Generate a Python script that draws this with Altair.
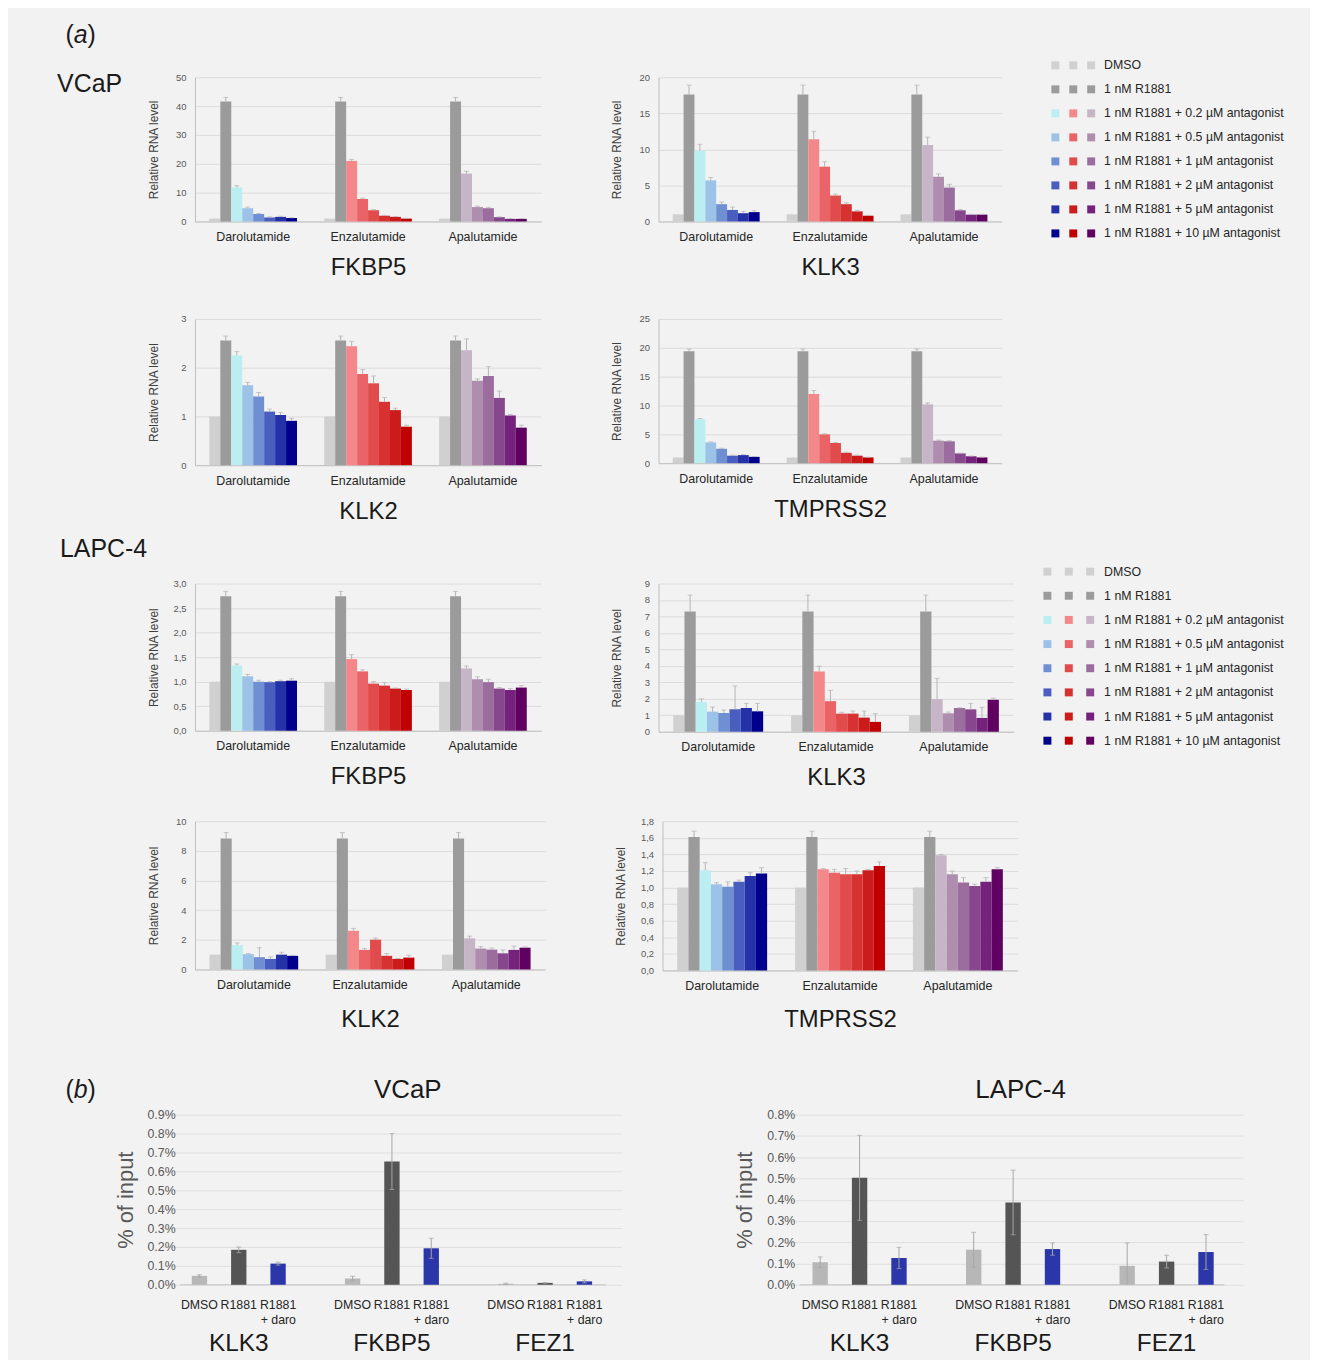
import altair as alt
import pandas as pd

FONT = "Liberation Sans"
BG = "#f2f2f2"
ERR = "#b3b3b3"

# ---------------- categories ----------------
GROUPS = ["Darolutamide", "Enzalutamide", "Apalutamide"]
CONDS = ["DMSO", "R1881", "0.2", "0.5", "1", "2", "5", "10"]
LEGEND_LABELS = [
    "DMSO",
    "1 nM R1881",
    "1 nM R1881 + 0.2 µM antagonist",
    "1 nM R1881 + 0.5 µM antagonist",
    "1 nM R1881 + 1 µM antagonist",
    "1 nM R1881 + 2 µM antagonist",
    "1 nM R1881 + 5 µM antagonist",
    "1 nM R1881 + 10 µM antagonist",
]

# ---------------- (a) VCaP ----------------
VCAP_FKBP5 = [[1.0, 41.6, 11.8, 4.6, 2.6, 1.4, 1.6, 1.2],
              [1.0, 41.6, 21.0, 7.8, 3.9, 2.0, 1.6, 1.0],
              [1.0, 41.6, 16.6, 5.0, 4.6, 1.5, 0.9, 0.9]]
VCAP_FKBP5_ERR = [[0, 1.4, 0.6, 0.4, 0.2, 0.2, 0.2, 0.1],
                  [0, 1.4, 0.5, 0.3, 0.2, 0.1, 0.1, 0.1],
                  [0, 1.4, 0.8, 0.3, 0.3, 0.1, 0.1, 0.1]]
VCAP_KLK3 = [[1.0, 17.6, 9.8, 5.7, 2.4, 1.6, 1.15, 1.3],
             [1.0, 17.6, 11.4, 7.6, 3.6, 2.4, 1.4, 0.8],
             [1.0, 17.6, 10.6, 6.2, 4.7, 1.55, 0.95, 0.95]]
VCAP_KLK3_ERR = [[0, 1.3, 0.9, 0.4, 0.3, 0.4, 0.25, 0.2],
                 [0, 1.3, 1.1, 0.7, 0.2, 0.2, 0.15, 0.05],
                 [0, 1.3, 1.1, 0.4, 0.45, 0.1, 0.05, 0.05]]
VCAP_KLK2 = [[1.0, 2.56, 2.25, 1.64, 1.41, 1.10, 1.03, 0.91],
             [1.0, 2.56, 2.44, 1.87, 1.68, 1.30, 1.13, 0.79],
             [1.0, 2.56, 2.36, 1.73, 1.83, 1.38, 1.02, 0.77]]
VCAP_KLK2_ERR = [[0, 0.09, 0.08, 0.06, 0.08, 0.05, 0.05, 0.05],
                 [0, 0.09, 0.10, 0.09, 0.15, 0.09, 0.04, 0.03],
                 [0, 0.09, 0.23, 0.04, 0.19, 0.14, 0.02, 0.05]]
VCAP_TMPRSS2 = [[1.0, 19.4, 7.6, 3.6, 2.5, 1.3, 1.4, 1.1],
                [1.0, 19.4, 12.0, 5.0, 3.5, 1.8, 1.3, 1.0],
                [1.0, 19.4, 10.2, 3.9, 3.8, 1.7, 1.2, 1.0]]
VCAP_TMPRSS2_ERR = [[0, 0.4, 0.15, 0.1, 0.1, 0.1, 0.1, 0.05],
                    [0, 0.4, 0.6, 0.1, 0.1, 0.1, 0.1, 0.05],
                    [0, 0.4, 0.25, 0.1, 0.1, 0.05, 0.05, 0.05]]

# ---------------- (a) LAPC-4 ----------------
LAPC_FKBP5 = [[1.0, 2.74, 1.33, 1.11, 1.00, 0.99, 1.01, 1.02],
              [1.0, 2.74, 1.46, 1.21, 0.96, 0.92, 0.86, 0.83],
              [1.0, 2.74, 1.27, 1.05, 0.99, 0.86, 0.83, 0.88]]
LAPC_FKBP5_ERR = [[0, 0.10, 0.03, 0.04, 0.03, 0.01, 0.02, 0.04],
                  [0, 0.10, 0.09, 0.03, 0.04, 0.06, 0.01, 0.02],
                  [0, 0.10, 0.05, 0.05, 0.06, 0.02, 0.03, 0.04]]
LAPC_KLK3 = [[1.0, 7.3, 1.82, 1.22, 1.14, 1.36, 1.44, 1.24],
             [1.0, 7.3, 3.66, 1.86, 1.10, 1.10, 0.86, 0.60],
             [1.0, 7.3, 1.98, 1.12, 1.44, 1.36, 0.84, 1.94]]
LAPC_KLK3_ERR = [[0, 1.0, 0.18, 0.28, 0.18, 1.42, 0.28, 0.48],
                 [0, 1.0, 0.32, 0.66, 0.08, 0.16, 0.40, 0.50],
                 [0, 1.0, 1.26, 0.08, 0.02, 0.36, 0.64, 0.10]]
LAPC_KLK2 = [[1.0, 8.84, 1.65, 1.03, 0.83, 0.71, 1.00, 0.92],
             [1.0, 8.84, 2.61, 1.32, 2.01, 0.92, 0.71, 0.80],
             [1.0, 8.84, 2.10, 1.41, 1.34, 1.09, 1.32, 1.47]]
LAPC_KLK2_ERR = [[0, 0.40, 0.14, 0.04, 0.64, 0.14, 0.16, 0.03],
                 [0, 0.40, 0.16, 0.09, 0.11, 0.15, 0.03, 0.16],
                 [0, 0.40, 0.15, 0.13, 0.11, 0.23, 0.26, 0.05]]
LAPC_TMPRSS2 = [[1.0, 1.61, 1.21, 1.04, 1.01, 1.07, 1.14, 1.17],
                [1.0, 1.61, 1.22, 1.18, 1.16, 1.16, 1.21, 1.26],
                [1.0, 1.61, 1.39, 1.16, 1.06, 1.02, 1.07, 1.22]]
LAPC_TMPRSS2_ERR = [[0, 0.07, 0.09, 0.02, 0.06, 0.02, 0.04, 0.07],
                    [0, 0.07, 0.01, 0.04, 0.07, 0.04, 0.01, 0.05],
                    [0, 0.07, 0.01, 0.04, 0.06, 0.02, 0.05, 0.02]]

# tick values
TICKS_VCAP_FKBP5 = [0, 10, 20, 30, 40, 50]
TICKS_VCAP_KLK3 = [0, 5, 10, 15, 20]
TICKS_VCAP_KLK2 = [0, 1, 2, 3]
TICKS_VCAP_TMPRSS2 = [0, 5, 10, 15, 20, 25]
TICKS_LAPC_FKBP5 = [0.0, 0.5, 1.0, 1.5, 2.0, 2.5, 3.0]
TICKS_LAPC_KLK3 = [0, 1, 2, 3, 4, 5, 6, 7, 8, 9]
TICKS_LAPC_KLK2 = [0, 2, 4, 6, 8, 10]
TICKS_LAPC_TMPRSS2 = [0.0, 0.2, 0.4, 0.6, 0.8, 1.0, 1.2, 1.4, 1.6, 1.8]

# ---------------- (b) ChIP ----------------
CHIP_GENES = ["KLK3", "FKBP5", "FEZ1"]
CHIP_CONDS = ["DMSO", "R1881", "R1881 + daro"]
CHIP_LINE1 = ["DMSO", "R1881", "R1881"]
VCAP_CHIP = [[0.047, 0.185, 0.112], [0.033, 0.652, 0.193], [0.005, 0.010, 0.018]]
VCAP_CHIP_ERR = [[0.006, 0.015, 0.008], [0.012, 0.148, 0.053], [0.003, 0.002, 0.008]]
LAPC_CHIP = [[0.106, 0.503, 0.126], [0.165, 0.387, 0.168], [0.089, 0.109, 0.154]]
LAPC_CHIP_ERR = [[0.025, 0.200, 0.050], [0.082, 0.152, 0.029], [0.108, 0.030, 0.082]]
TICKS_VCAP_CHIP = [0.0, 0.1, 0.2, 0.3, 0.4, 0.5, 0.6, 0.7, 0.8, 0.9]
TICKS_LAPC_CHIP = [0.0, 0.1, 0.2, 0.3, 0.4, 0.5, 0.6, 0.7, 0.8]

# ---------------- palette ----------------
DMSO_GRAY = "#d0d0d0"
R1881_GRAY = "#9b9b9b"
BLUES = ["#bbeef0", "#9cc2e7", "#6f8fd3", "#4a5ec0", "#2532a7", "#00008c"]
REDS = ["#f4878a", "#ea6467", "#e14b4c", "#d73232", "#cc1b1b", "#c00000"]
PURPLES = ["#c6b5c6", "#ae8dae", "#9b6c9e", "#87478d", "#74227b", "#600060"]
SERIES = [BLUES, REDS, PURPLES]
CHIP_COLORS = ["#b7b7b7", "#555555", "#2b36a8"]


def anchor(x, y):
    return alt.Chart(pd.DataFrame({"a": [0]})).mark_point(
        opacity=0, size=1, filled=True).encode(x=alt.value(x), y=alt.value(y))


def spacer():
    return anchor(0, 0).properties(width=1, height=1)


def note(text, x, y, size, style="normal", color="#1a1a1a"):
    return alt.Chart(pd.DataFrame({"t": [text]})).mark_text(
        font=FONT, fontSize=size, fontStyle=style, color=color,
        align="center", baseline="middle").encode(
        x=alt.value(x), y=alt.value(y), text="t:N")


def rna_panel(pid, gene, vals, errs, ymax, ticks, comma, width, height, extras, title_pad=13):
    ckey, okey = f"c{pid}", f"o{pid}"
    rows = []
    for gi, g in enumerate(GROUPS):
        for ci, c in enumerate(CONDS):
            rows.append({"group": g, okey: c, ckey: f"{g}|{c}",
                         "v": vals[gi][ci], "top": vals[gi][ci] + errs[gi][ci]})
    df = pd.DataFrame(rows)
    dom = [f"{g}|{c}" for g in GROUPS for c in CONDS]
    rng = [col for si in range(3) for col in [DMSO_GRAY, R1881_GRAY] + SERIES[si]]
    expr = ("replace(format(datum.value, '.1f'), '.', ',')" if comma
            else "format(datum.value, 'd')")
    x = alt.X("group:N", sort=GROUPS,
              scale=alt.Scale(domain=GROUPS, paddingInner=0.237, paddingOuter=0.125),
              axis=alt.Axis(title=gene, labelAngle=0, labelFont=FONT, labelFontSize=12.5,
                            labelColor="#262626", labelPadding=9, ticks=False, tickSize=0,
                            domainColor="#bfbfbf", titleFont=FONT, titleFontSize=24,
                            titleFontWeight="normal", titleColor="#1a1a1a",
                            titlePadding=title_pad))
    xo = alt.XOffset(f"{okey}:N", sort=CONDS,
                     scale=alt.Scale(domain=CONDS, paddingInner=0, paddingOuter=0))
    y = alt.Y("v:Q", scale=alt.Scale(domain=[0, ymax], nice=False),
              axis=alt.Axis(values=ticks, labelExpr=expr, title="Relative RNA level",
                            titleFont=FONT, titleFontSize=12, titleFontWeight="normal",
                            titleColor="#404040", labelFont=FONT, labelFontSize=9.5,
                            labelColor="#595959", labelPadding=9, ticks=False, tickSize=0,
                            labelOverlap=False, domain=True, domainColor="#bfbfbf",
                            grid=True, gridColor="#dcdcdc", minExtent=26, maxExtent=26,
                            titlePadding=9))
    base = alt.Chart(df)
    bars = base.mark_bar().encode(
        x=x, xOffset=xo, y=y,
        color=alt.Color(f"{ckey}:N", scale=alt.Scale(domain=dom, range=rng), legend=None))
    eb = base.transform_filter("datum.top > datum.v")
    whisk = eb.mark_rule(color=ERR, strokeWidth=1).encode(x=x, xOffset=xo, y=y, y2="top:Q")
    cap = eb.transform_calculate(v="datum.top").mark_tick(
        color=ERR, orient="horizontal", size=5, thickness=1).encode(x=x, xOffset=xo, y=y)
    return alt.layer(bars, whisk, cap, *extras).properties(width=width, height=height)


def legend_panel(pid, sq_range, txt_x, y_range, height, extras):
    lkey = f"l{pid}"
    rows = [{"row": r, "col": s, lkey: f"{s}|{r}"} for s in range(3) for r in range(8)]
    dom = [f"{s}|{r}" for s in range(3) for r in range(8)]
    rng = [([DMSO_GRAY, R1881_GRAY] + SERIES[s])[r] for s in range(3) for r in range(8)]
    yenc = alt.Y("row:Q", scale=alt.Scale(domain=[0, 7], range=y_range), axis=None)
    sq = alt.Chart(pd.DataFrame(rows)).mark_square(size=64, opacity=1).encode(
        x=alt.X("col:Q", scale=alt.Scale(domain=[0, 2], range=sq_range), axis=None),
        y=yenc,
        color=alt.Color(f"{lkey}:N", scale=alt.Scale(domain=dom, range=rng), legend=None))
    txt = alt.Chart(pd.DataFrame({"row": list(range(8)), "lab": LEGEND_LABELS})).mark_text(
        align="left", baseline="middle", font=FONT, fontSize=12.4, color="#262626").encode(
        x=alt.value(txt_x), y=yenc, text="lab:N")
    return alt.layer(sq, txt, *extras).properties(width=200, height=height)


def chip_panel(pid, vals, errs, ymax, ticks, width, height, xrange, extras):
    okey, ckey = f"bo{pid}", f"bc{pid}"
    rows = []
    for gi, g in enumerate(CHIP_GENES):
        for ci, c in enumerate(CHIP_CONDS):
            v, e = vals[gi][ci], errs[gi][ci]
            rows.append({"gene": g, okey: c, ckey: c, "v": v,
                         "lo": max(0.0, v - e), "hi": v + e,
                         "line1": CHIP_LINE1[ci]})
    df = pd.DataFrame(rows)
    x = alt.X("gene:N", sort=CHIP_GENES,
              scale=alt.Scale(domain=CHIP_GENES, range=xrange, paddingInner=0, paddingOuter=0),
              axis=None)
    xo = alt.XOffset(f"{okey}:N", sort=CHIP_CONDS,
                     scale=alt.Scale(domain=CHIP_CONDS, paddingInner=0.61, paddingOuter=0.753))
    y = alt.Y("v:Q", scale=alt.Scale(domain=[0, ymax], nice=False),
              axis=alt.Axis(values=ticks, labelExpr="format(datum.value, '.1f') + '%'",
                            title="% of input", titleFont=FONT, titleFontSize=22,
                            titleFontWeight="normal", titleColor="#595959",
                            labelFont=FONT, labelFontSize=12.4, labelColor="#595959",
                            labelPadding=5, ticks=False, tickSize=0, domain=False,
                            labelOverlap=False, grid=True, gridColor="#e0e0e0",
                            minExtent=33, maxExtent=33, titlePadding=10))
    base = alt.Chart(df)
    baseline = alt.Chart(pd.DataFrame({"v": [0.0]})).mark_rule(
        color="#c4c4c4", strokeWidth=1).encode(
        y=y, x=alt.value(0), x2=alt.value(width))
    bars = base.mark_bar().encode(
        x=x, xOffset=xo, y=y,
        color=alt.Color(f"{ckey}:N", scale=alt.Scale(domain=CHIP_CONDS, range=CHIP_COLORS),
                        legend=None))
    whisk = base.transform_calculate(v="datum.lo").mark_rule(
        color="#a6a6a6", strokeWidth=1).encode(x=x, xOffset=xo, y=y, y2="hi:Q")
    cap_hi = base.transform_calculate(v="datum.hi").mark_tick(
        color="#a6a6a6", orient="horizontal", size=5, thickness=1).encode(x=x, xOffset=xo, y=y)
    cap_lo = base.transform_filter("datum.lo > 0").transform_calculate(v="datum.lo").mark_tick(
        color="#a6a6a6", orient="horizontal", size=5, thickness=1).encode(x=x, xOffset=xo, y=y)
    lab1 = base.mark_text(font=FONT, fontSize=12.4, color="#262626", baseline="middle").encode(
        x=x, xOffset=xo, y=alt.value(height + 20), text="line1:N")
    lab2 = base.transform_filter(f"datum['{okey}'] == 'R1881 + daro'").mark_text(
        font=FONT, fontSize=12.4, color="#262626", baseline="middle", align="right", dx=18).encode(
        x=x, xOffset=xo, y=alt.value(height + 35), text=alt.value("+ daro"))
    genes = alt.Chart(pd.DataFrame({"gene": CHIP_GENES})).mark_text(
        font=FONT, fontSize=24.5, color="#1a1a1a", baseline="middle").encode(
        x=x, y=alt.value(height + 60), text="gene:N")
    return alt.layer(baseline, bars, whisk, cap_hi, cap_lo, lab1, lab2, genes, *extras).properties(
        width=width, height=height)


# ---------------- panels ----------------
LEFT = -162

p1 = rna_panel(1, "FKBP5", VCAP_FKBP5, VCAP_FKBP5_ERR, 50, TICKS_VCAP_FKBP5, False, 348, 145,
               [note("(", -126, -42, 25), note("a", -115, -42, 25, style="italic"),
                note(")", -104, -42, 25), note("VCaP", -106, 7, 25),
                anchor(LEFT, -63), anchor(LEFT, 217)])
p2 = rna_panel(2, "KLK3", VCAP_KLK3, VCAP_KLK3_ERR, 20, TICKS_VCAP_KLK3, False, 345, 145,
               [anchor(-96, 0)])
leg1 = legend_panel(1, [32, 68], 81, [-12, 157], 145, [anchor(0, 0), anchor(283, 0)])

p3 = rna_panel(3, "KLK2", VCAP_KLK2, VCAP_KLK2_ERR, 3, TICKS_VCAP_KLK2, False, 348, 147,
               [anchor(LEFT, -24), anchor(LEFT, 209)])
p4 = rna_panel(4, "TMPRSS2", VCAP_TMPRSS2, VCAP_TMPRSS2_ERR, 25, TICKS_VCAP_TMPRSS2, False,
               345, 145, [anchor(-96, 0)])

p5 = rna_panel(5, "FKBP5", LAPC_FKBP5, LAPC_FKBP5_ERR, 3, TICKS_LAPC_FKBP5, True, 348, 148,
               [note("LAPC-4", -92, -35, 25), anchor(LEFT, -55), anchor(LEFT, 217)])
p6 = rna_panel(6, "KLK3", LAPC_KLK3, LAPC_KLK3_ERR, 9, TICKS_LAPC_KLK3, False, 357, 149,
               [anchor(-96, 0)])
leg2 = legend_panel(2, [12, 55], 69, [-12, 158], 149, [anchor(0, 0)])

p7 = rna_panel(7, "KLK2", LAPC_KLK2, LAPC_KLK2_ERR, 10, TICKS_LAPC_KLK2, False, 352, 149,
               [anchor(LEFT, -20), anchor(LEFT, 230)], title_pad=17)
p8 = rna_panel(8, "TMPRSS2", LAPC_TMPRSS2, LAPC_TMPRSS2_ERR, 1.8, TICKS_LAPC_TMPRSS2, True,
               357, 150, [anchor(-96, 0)], title_pad=16)

c1 = chip_panel(1, VCAP_CHIP, VCAP_CHIP_ERR, 0.9, TICKS_VCAP_CHIP, 428, 171, [-18, 444],
                [note("(", -111, -25, 25), note("b", -100, -25, 25, style="italic"),
                 note(")", -89, -25, 25), note("VCaP", 229, -25, 26),
                 anchor(LEFT + 15, -63)])
c2 = chip_panel(2, LAPC_CHIP, LAPC_CHIP_ERR, 0.8, TICKS_LAPC_CHIP, 427, 171, [-17, 446],
                [note("LAPC-4", 222, -25, 26), anchor(-173, 0)])

IND = dict(color="independent", xOffset="independent")
row1 = alt.hconcat(spacer(), p1, p2, leg1, spacing=20).resolve_scale(**IND)
row2 = alt.hconcat(spacer(), p3, p4, spacing=20).resolve_scale(**IND)
row3 = alt.hconcat(spacer(), p5, p6, leg2, spacing=20).resolve_scale(**IND)
row4 = alt.hconcat(spacer(), p7, p8, spacing=20).resolve_scale(**IND)
row5 = alt.hconcat(spacer(), c1, c2, spacing=20).resolve_scale(**IND)

chart = alt.vconcat(row1, row2, row3, row4, row5, spacing=0).resolve_scale(**IND).properties(
    padding={"left": 2, "top": 2, "right": 4, "bottom": 0},
    background=BG,
).configure_view(stroke="transparent").configure_axis(
    labelFont=FONT, titleFont=FONT).configure_text(font=FONT)

chart.save("out.html", embed_options={"renderer": "svg", "actions": False})
